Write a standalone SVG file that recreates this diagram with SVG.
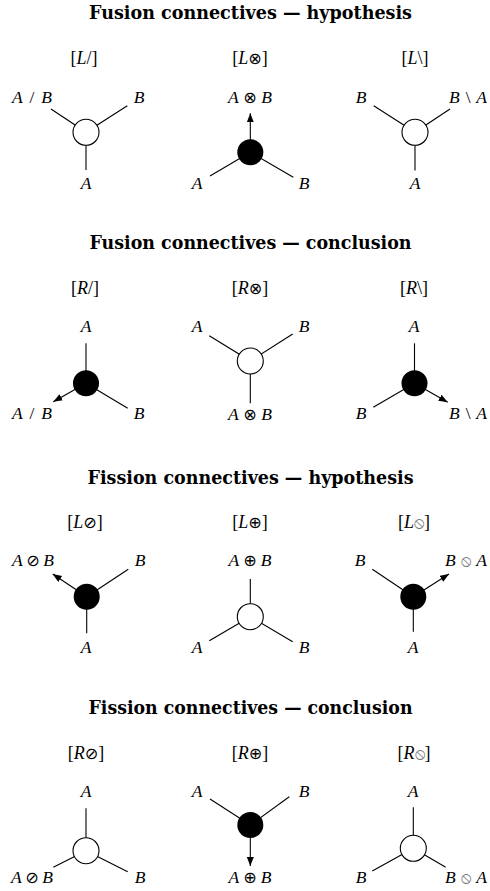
<svg xmlns="http://www.w3.org/2000/svg" width="490" height="891" viewBox="0 0 490 891">
<style>
text{font-family:"Liberation Serif","DejaVu Serif","DejaVu Sans",serif;fill:#000;text-anchor:middle}
.title{font-family:"DejaVu Serif","Liberation Serif",serif;font-weight:bold;font-size:18px}
.rule{font-size:18px}
.lbl{font-size:17.5px;font-style:italic}
.it{font-style:italic}
.up{font-style:normal}
.op{font-style:normal;font-family:"DejaVu Sans",sans-serif;font-size:16px}
.g{fill:#777}
.c line{stroke:#000;stroke-width:1.1}
.o{fill:#fff;stroke:#000;stroke-width:1.1}
.f{fill:#000}
.a{marker-end:url(#arr)}
</style>
<defs>
<marker id="arr" markerUnits="userSpaceOnUse" markerWidth="10" markerHeight="8" refX="9" refY="3.5" orient="auto">
<path d="M0,0 L9,3.5 L0,7 z" fill="#000"/>
</marker>
</defs>
<rect width="490" height="891" fill="#fff"/>

<g id="titles">
<text class="title" x="250.5" y="19" textLength="323" lengthAdjust="spacingAndGlyphs">Fusion connectives — hypothesis</text>
<text class="title" x="250.5" y="249" textLength="322" lengthAdjust="spacingAndGlyphs">Fusion connectives — conclusion</text>
<text class="title" x="250.5" y="484" textLength="326" lengthAdjust="spacingAndGlyphs">Fission connectives — hypothesis</text>
<text class="title" x="250.5" y="714" textLength="324" lengthAdjust="spacingAndGlyphs">Fission connectives — conclusion</text>
</g>

<g id="connectors" class="c">
<line x1="86" y1="132.3" x2="51" y2="109"/>
<line x1="86" y1="132.3" x2="127.3" y2="105.7"/>
<line x1="86" y1="132.3" x2="86" y2="170"/>
<line class="a" x1="250.3" y1="152.3" x2="250.3" y2="113.3"/>
<line x1="250.3" y1="152.3" x2="210" y2="176"/>
<line x1="250.3" y1="152.3" x2="293.3" y2="177.3"/>
<line x1="415" y1="132.3" x2="373.7" y2="105.7"/>
<line x1="415" y1="132.3" x2="450" y2="109"/>
<line x1="415" y1="132.3" x2="415" y2="170.5"/>

<line x1="86" y1="383.3" x2="86" y2="343.3"/>
<line class="a" x1="86" y1="383.3" x2="53.3" y2="401.7"/>
<line x1="86" y1="383.3" x2="127.7" y2="408.3"/>
<line x1="250.3" y1="361" x2="209.3" y2="335.7"/>
<line x1="250.3" y1="361" x2="292.7" y2="334"/>
<line x1="250.3" y1="361" x2="250.3" y2="403.3"/>
<line x1="414.5" y1="383.3" x2="414.5" y2="343.3"/>
<line x1="414.5" y1="383.3" x2="373.3" y2="407.3"/>
<line class="a" x1="414.5" y1="383.3" x2="447.7" y2="402.3"/>

<line class="a" x1="86.7" y1="596.7" x2="52.7" y2="574"/>
<line x1="86.7" y1="596.7" x2="128.3" y2="569.3"/>
<line x1="86.7" y1="596.7" x2="86.7" y2="633.3"/>
<line x1="250.3" y1="616.7" x2="250.3" y2="579"/>
<line x1="250.3" y1="616.7" x2="209.3" y2="640.7"/>
<line x1="250.3" y1="616.7" x2="292.7" y2="641.7"/>
<line x1="413.3" y1="596.7" x2="372.3" y2="569.3"/>
<line class="a" x1="413.3" y1="596.7" x2="449" y2="574"/>
<line x1="413.3" y1="596.7" x2="413.3" y2="631.7"/>

<line x1="86" y1="850.7" x2="86" y2="808.3"/>
<line x1="86" y1="850.7" x2="53.3" y2="867.3"/>
<line x1="86" y1="850.7" x2="127.7" y2="871.7"/>
<line x1="250.3" y1="825" x2="210" y2="799"/>
<line x1="250.3" y1="825" x2="289.3" y2="796.7"/>
<line class="a" x1="250.3" y1="825" x2="250.3" y2="866"/>
<line x1="413.3" y1="848.3" x2="413.3" y2="807.3"/>
<line x1="413.3" y1="848.3" x2="372.3" y2="871"/>
<line x1="413.3" y1="848.3" x2="445.7" y2="867.3"/>
</g>

<g id="node-L-slash">
<text class="rule" x="84" y="64">[<tspan class="it">L</tspan>/]</text>
<circle class="o" cx="86" cy="132.3" r="13"/>
<text class="lbl" x="32" y="102.5" textLength="40" lengthAdjust="spacing">A <tspan class="up">/</tspan> B</text>
<text class="lbl" x="139" y="102.5">B</text>
<text class="lbl" x="86" y="189">A</text>
</g>
<g id="node-L-otimes">
<text class="rule" x="250" y="64">[<tspan class="it">L</tspan><tspan class="op">⊗</tspan>]</text>
<circle class="f" cx="250.3" cy="152.3" r="13"/>
<text class="lbl" x="250" y="102.5" textLength="44" lengthAdjust="spacing">A <tspan class="op">⊗</tspan> B</text>
<text class="lbl" x="197" y="189">A</text>
<text class="lbl" x="304" y="189">B</text>
</g>
<g id="node-L-bslash">
<text class="rule" x="415" y="64">[<tspan class="it">L</tspan>\]</text>
<circle class="o" cx="415" cy="132.3" r="13"/>
<text class="lbl" x="361" y="102.5">B</text>
<text class="lbl" x="468" y="102.5" textLength="38" lengthAdjust="spacing">B <tspan class="up">\</tspan> A</text>
<text class="lbl" x="415" y="189">A</text>
</g>

<g id="node-R-slash">
<text class="rule" x="85" y="294">[<tspan class="it">R</tspan>/]</text>
<circle class="f" cx="86" cy="383.3" r="13"/>
<text class="lbl" x="86" y="332.3">A</text>
<text class="lbl" x="32" y="419" textLength="40" lengthAdjust="spacing">A <tspan class="up">/</tspan> B</text>
<text class="lbl" x="139" y="419">B</text>
</g>
<g id="node-R-otimes">
<text class="rule" x="250" y="294">[<tspan class="it">R</tspan><tspan class="op">⊗</tspan>]</text>
<circle class="o" cx="250.3" cy="361" r="13"/>
<text class="lbl" x="197" y="332.3">A</text>
<text class="lbl" x="304" y="332.3">B</text>
<text class="lbl" x="250" y="419.5" textLength="44" lengthAdjust="spacing">A <tspan class="op">⊗</tspan> B</text>
</g>
<g id="node-R-bslash">
<text class="rule" x="414" y="294">[<tspan class="it">R</tspan>\]</text>
<circle class="f" cx="414.5" cy="383.3" r="13"/>
<text class="lbl" x="414" y="332.3">A</text>
<text class="lbl" x="361" y="419">B</text>
<text class="lbl" x="468" y="419" textLength="38" lengthAdjust="spacing">B <tspan class="up">\</tspan> A</text>
</g>

<g id="node-L-oslash">
<text class="rule" x="85" y="528">[<tspan class="it">L</tspan><tspan class="op">⊘</tspan>]</text>
<circle class="f" cx="86.7" cy="596.7" r="13"/>
<text class="lbl" x="33" y="566" textLength="42" lengthAdjust="spacing">A <tspan class="op">⊘</tspan> B</text>
<text class="lbl" x="140" y="566">B</text>
<text class="lbl" x="86" y="653">A</text>
</g>
<g id="node-L-oplus">
<text class="rule" x="250" y="528">[<tspan class="it">L</tspan><tspan class="op">⊕</tspan>]</text>
<circle class="o" cx="250.3" cy="616.7" r="13"/>
<text class="lbl" x="250" y="566" textLength="43" lengthAdjust="spacing">A <tspan class="op">⊕</tspan> B</text>
<text class="lbl" x="197" y="653">A</text>
<text class="lbl" x="304" y="653">B</text>
</g>
<g id="node-L-obslash">
<text class="rule" x="414" y="528">[<tspan class="it">L</tspan><tspan class="op g">⦸</tspan>]</text>
<circle class="f" cx="413.3" cy="596.7" r="13"/>
<text class="lbl" x="360" y="566">B</text>
<text class="lbl" x="466" y="566" textLength="42" lengthAdjust="spacing">B <tspan class="op g">⦸</tspan> A</text>
<text class="lbl" x="413" y="653">A</text>
</g>

<g id="node-R-oslash">
<text class="rule" x="86" y="759">[<tspan class="it">R</tspan><tspan class="op">⊘</tspan>]</text>
<circle class="o" cx="86" cy="850.7" r="13"/>
<text class="lbl" x="86" y="797">A</text>
<text class="lbl" x="32" y="883" textLength="42" lengthAdjust="spacing">A <tspan class="op">⊘</tspan> B</text>
<text class="lbl" x="140" y="883">B</text>
</g>
<g id="node-R-oplus">
<text class="rule" x="250" y="759">[<tspan class="it">R</tspan><tspan class="op">⊕</tspan>]</text>
<circle class="f" cx="250.3" cy="825" r="13"/>
<text class="lbl" x="197" y="797">A</text>
<text class="lbl" x="304" y="797">B</text>
<text class="lbl" x="250" y="883" textLength="43" lengthAdjust="spacing">A <tspan class="op">⊕</tspan> B</text>
</g>
<g id="node-R-obslash">
<text class="rule" x="414" y="759">[<tspan class="it">R</tspan><tspan class="op g">⦸</tspan>]</text>
<circle class="o" cx="413.3" cy="848.3" r="13"/>
<text class="lbl" x="413" y="797">A</text>
<text class="lbl" x="361" y="883">B</text>
<text class="lbl" x="466" y="883" textLength="42" lengthAdjust="spacing">B <tspan class="op g">⦸</tspan> A</text>
</g>
</svg>
